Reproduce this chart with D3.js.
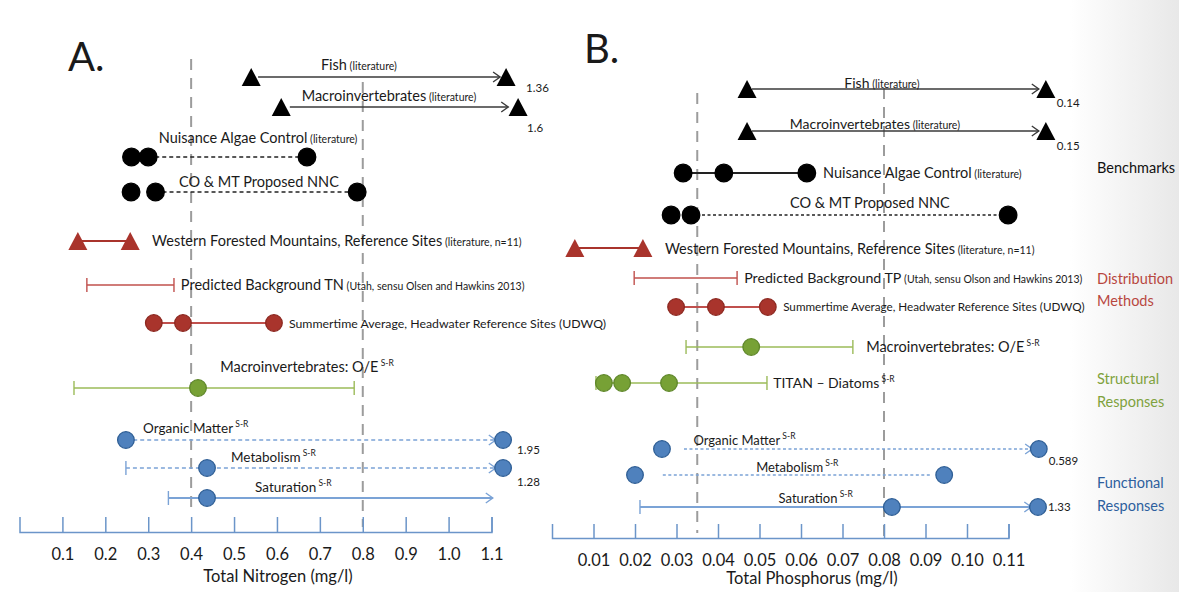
<!DOCTYPE html>
<html lang="en">
<head>
<meta charset="utf-8">
<title>Nitrogen and phosphorus benchmarks</title>
<script src="https://cdn.jsdelivr.net/npm/d3@7"></script>
<style>
	body { margin: 0; background: #fff; font-family: Lato, "Open Sans", sans-serif; }
	svg text { fill: #1a1a1a; }
</style>
</head>
<body>
<svg id="chart" width="1179" height="592"></svg>
<script>

// ---- panel A : total nitrogen (mg/l) ----
var tnTicks = [0.1, 0.2, 0.3, 0.4, 0.5, 0.6, 0.7, 0.8, 0.9, 1.0, 1.1]
var tnCriteria = [0.4, 0.8]
var tnRows = ["Fish", "Macroinvertebrates", "Nuisance Algae Control", "CO & MT Proposed NNC",
	"Western Forested Mountains, Reference Sites", "Predicted Background TN",
	"Summertime Average, Headwater Reference Sites (UDWQ)", "Macroinvertebrates: O/E",
	"Organic Matter", "Metabolism", "Saturation"]
var tnNotes = ["(literature)", "(literature)", "(literature)", "", "(literature, n=11)",
	"(Utah, sensu Olsen and Hawkins 2013)", "", "", "", "", ""]
var tnSup = ["", "", "", "", "", "", "", "S-R", "S-R", "S-R", "S-R"]
var tnGroup = ["bench", "bench", "bench", "bench", "dist", "dist", "dist", "struct", "func", "func", "func"]
var tnMarker = ["tri", "tri", "dot", "dot", "tri", "", "dot", "dot", "dot", "dot", "dot"]
var tnPoints = [[0.54], [0.61], [0.261, 0.30, 0.67], [0.26, 0.317, 0.787], [0.136, 0.258], [],
	[0.313, 0.381, 0.593], [0.416], [0.248], [0.437], [0.437]]
var tnSpans = [[0.556, 1.12], [0.63, 1.139], [0.30, 0.67], [0.317, 0.787], [0.136, 0.258], [0.157, 0.36],
	[0.313, 0.593], [0.127, 0.78], [0.265, 1.11], [0.248, 1.11], [0.347, 1.103]]
var tnBeyond = ["1.36", "1.6", "", "", "", "", "", "", "1.95", "1.28", ""]   // values past the axis end

// ---- panel B : total phosphorus (mg/l) ----
var tpTicks = [0.01, 0.02, 0.03, 0.04, 0.05, 0.06, 0.07, 0.08, 0.09, 0.10, 0.11]
var tpCriteria = [0.035, 0.08]
var tpRows = ["Fish", "Macroinvertebrates", "Nuisance Algae Control", "CO & MT Proposed NNC",
	"Western Forested Mountains, Reference Sites", "Predicted Background TP",
	"Summertime Average, Headwater Reference Sites (UDWQ)", "Macroinvertebrates: O/E",
	"TITAN \u2013 Diatoms", "Organic Matter", "Metabolism", "Saturation"]
var tpNotes = ["(literature)", "(literature)", "(literature)", "", "(literature, n=11)",
	"(Utah, sensu Olson and Hawkins 2013)", "", "", "", "", "", ""]
var tpSup = ["", "", "", "", "", "", "", "S-R", "S-R", "S-R", "S-R", "S-R"]
var tpGroup = ["bench", "bench", "bench", "bench", "dist", "dist", "dist", "struct", "struct", "func", "func", "func"]
var tpMarker = ["tri", "tri", "dot", "dot", "tri", "", "dot", "dot", "dot", "dot", "dot", "dot"]
var tpPoints = [[0.047], [0.047], [0.0316, 0.0414, 0.0614], [0.0287, 0.0335, 0.1099], [0.0055, 0.0219], [],
	[0.0299, 0.0395, 0.052], [0.048], [0.0125, 0.0169, 0.0282], [0.0265], [0.02, 0.0945], [0.0819]]
var tpSpans = [[0.0482, 0.1173], [0.0482, 0.1173], [0.0316, 0.0614], [0.0335, 0.1099], [0.0055, 0.0219],
	[0.0198, 0.0446], [0.0299, 0.052], [0.0323, 0.0725], [0.0106, 0.0518], [0.0318, 0.1157],
	[0.0267, 0.0911], [0.0212, 0.1155]]
var tpBeyond = ["0.14", "0.15", "", "", "", "", "", "", "", "0.589", "", "1.33"]

var groupTitles = [["Benchmarks"], ["Distribution", "Methods"], ["Structural", "Responses"], ["Functional", "Responses"]]
var groupKeys = ["bench", "dist", "struct", "func"]

// ---- looks ----
var groupStyle = {
	bench: {fill: "#000", stroke: "#000", line: "#222", title: "#111"},
	dist: {fill: "#a9342c", stroke: "#8c2820", line: "#c0504d", title: "#b8473f"},
	struct: {fill: "#77a135", stroke: "#5f872a", line: "#9bbb59", title: "#7fa23d"},
	func: {fill: "#4f81bd", stroke: "#2e5e95", line: "#7ba3d6", title: "#2d5f9e"}
}

// layout (pixels and label anchors), kept apart from the data
var tnLayout = {
	max: 1.1, x0: 19.5, x1: 491.5, axisY: 532, tickLen: 15, fmt: ".1f",
	critTop: [59, 82], critBottom: [515, 527],
	rowY: [77, 107, 157, 192, 241, 285, 323, 388, 440, 468, 498],
	kind: ["s>", "s>", "d", "d", "s", "[s]", "s", "[s]", "d>", "[d>", "[s>"],
	labelAt: [0.791, 0.861, 0.556, 0.558, 0.309, 0.376, 0.628, 0.67, 0.288, 0.493, 0.549],
	labelDy: [-7, -6, -14, -5, 5, 5, 5, -16, -7, -6, -6],
	anchor: ["middle", "middle", "middle", "middle", "start", "start", "start", "middle", "start", "start", "start"],
	labelSize: [14.5, 14.5, 14.5, 14.5, 14.5, 14.5, 12.3, 14.5, 13.5, 13.5, 13.5],
	beyondAt: [1.134, 1.162, 0, 0, 0, 0, 0, 0, 1.127, 1.127, 0],
	beyondDx: [20, 9, 0, 0, 0, 0, 0, 0, 14, 14, 0],
	beyondDy: [15, 25, 0, 0, 0, 0, 0, 0, 14, 18, 0],
	title: "Total Nitrogen (mg/l)", titleX: 278, titleY: 582,
	letter: "A.", letterX: 68, letterY: 71
}
var tpLayout = {
	max: 0.11, x0: 552, x1: 1008.5, axisY: 538, tickLen: 14, fmt: ".2f",
	critTop: [93, 88], critBottom: [533, 537],
	rowY: [89, 131, 173, 215, 248, 278, 307, 347, 383, 449, 475, 507],
	kind: ["s>", "s>", "s", "o", "s", "[s]", "s", "[s]", "[s]", "o>", "o", "[s>"],
	labelAt: [0.0795, 0.0778, 0.0653, 0.0766, 0.0272, 0.0463, 0.0557, 0.0757, 0.0533, 0.0341, 0.0492, 0.0546],
	labelDy: [-1, -2, 5, -7, 6, 5, 4, 5, 5, -4, -3, -4],
	anchor: ["middle", "middle", "start", "middle", "start", "start", "start", "start", "start", "start", "start", "start"],
	labelSize: [14, 14, 14.5, 14.5, 14.5, 14.2, 11.7, 14.5, 14, 13, 13, 13],
	beyondAt: [0.119, 0.119, 0, 0, 0, 0, 0, 0, 0, 0.1173, 0, 0.1171],
	beyondDx: [11, 11, 0, 0, 0, 0, 0, 0, 0, 10, 0, 10],
	beyondDy: [18, 19, 0, 0, 0, 0, 0, 0, 0, 16, 4, 4],
	title: "Total Phosphorus (mg/l)", titleX: 812, titleY: 584,
	letter: "B.", letterX: 584, letterY: 63,
	groupX: 1097, groupY: [[173], [284, 306], [384, 407], [488, 511]]
}

var svg = d3.select("#chart")

// faint slide shading on the right edge
var defs = svg.append("defs")
var grad = defs.append("linearGradient").attr("id", "edge").attr("x1", 0).attr("x2", 1).attr("y1", 0).attr("y2", 0)
grad.append("stop").attr("offset", 0).attr("stop-color", "#fff")
grad.append("stop").attr("offset", 1).attr("stop-color", "#e8e8e8")
svg.append("rect").attr("width", 1179).attr("height", 592).attr("fill", "#fff")
svg.append("rect").attr("x", 1070).attr("width", 109).attr("height", 592).attr("fill", "url(#edge)")

function triPath(w, h) {
	return "M0," + (-h / 2) + "L" + (w / 2) + "," + (h / 2) + "L" + (-w / 2) + "," + (h / 2) + "Z"
}

function drawPanel(d, L) {
	var x = d3.scaleLinear().domain([0, L.max]).range([L.x0, L.x1])
	var y = d3.scaleOrdinal().domain(d.rows).range(L.rowY)
	var g = svg.append("g")

	// dashed criteria lines
	g.selectAll(".crit").data(d.criteria).enter().append("line")
		.attr("x1", function(v) { return x(v) }).attr("x2", function(v) { return x(v) })
		.attr("y1", function(v, i) { return L.critTop[i] }).attr("y2", function(v, i) { return L.critBottom[i] })
		.attr("stroke", "#9c9c9c").attr("stroke-width", 2).attr("stroke-dasharray", "11,8")

	// axis, ticks pointing up
	var axis = d3.axisBottom(x).tickValues(d.ticks).tickFormat(d3.format(L.fmt))
		.tickSizeInner(-L.tickLen).tickSizeOuter(-L.tickLen).tickPadding(16)
	var ag = g.append("g").attr("transform", "translate(0," + L.axisY + ")").call(axis)
	ag.selectAll("path, line").attr("stroke", "#6b95c9").attr("stroke-width", 1.5)
	ag.selectAll("text").attr("font-family", "Lato").attr("font-size", 16.5).style("fill", "#1a1a1a")
	g.append("text").attr("x", L.titleX).attr("y", L.titleY).attr("text-anchor", "middle")
		.attr("font-size", 16.5).text(L.title)
	g.append("text").attr("x", L.letterX).attr("y", L.letterY).attr("font-size", 40).text(L.letter)

	d.rows.forEach(function(name, i) {
		var st = groupStyle[d.group[i]]
		var k = L.kind[i]
		var yy = y(name)
		var span = d.spans[i]
		var x1 = x(span[0]), x2 = x(span[1])
		var isBar = k.indexOf("[") >= 0 && k.indexOf("]") >= 0
		var lineCol = st.line
		var lw = isBar ? 1.4 : (k.indexOf("d") >= 0 || k.indexOf("o") >= 0 ? 1.6 : 2)
		if (d.group[i] == "bench" && k.indexOf(">") >= 0) { lineCol = "#3a3a3a"; lw = 1.6 }
		if (d.group[i] == "dist" && d.marker[i] == "tri") { lineCol = st.fill; lw = 2.2 }
		var dash = null
		if (k.indexOf("d") >= 0) dash = "4,3"
		if (k.indexOf("o") >= 0) dash = "3,2.5"
		g.append("line").attr("x1", x1).attr("x2", x2).attr("y1", yy).attr("y2", yy)
			.attr("stroke", lineCol).attr("stroke-width", lw).attr("stroke-dasharray", dash)
		if (k.indexOf("[") >= 0)
			g.append("line").attr("x1", x1).attr("x2", x1).attr("y1", yy - 7).attr("y2", yy + 7)
				.attr("stroke", lineCol).attr("stroke-width", 1.4)
		if (k.indexOf("]") >= 0)
			g.append("line").attr("x1", x2).attr("x2", x2).attr("y1", yy - 7).attr("y2", yy + 7)
				.attr("stroke", lineCol).attr("stroke-width", 1.4)
		if (k.indexOf(">") >= 0)
			g.append("path").attr("d", "M" + (x2 - 7) + "," + (yy - 5) + "L" + x2 + "," + yy + "L" + (x2 - 7) + "," + (yy + 5))
				.attr("fill", "none").attr("stroke", lineCol).attr("stroke-width", 1.4)

		// markers on the scale, plus the one standing for a value past the axis
		var pts = d.points[i].slice()
		if (d.beyond[i]) pts.push(L.beyondAt[i])
		pts.forEach(function(v) {
			if (d.marker[i] == "tri") {
				g.append("path").attr("d", triPath(19, 18))
					.attr("transform", "translate(" + x(v) + "," + yy + ")")
					.attr("fill", st.fill)
			} else {
				g.append("circle").attr("cx", x(v)).attr("cy", yy).attr("r", d.group[i] == "bench" ? 8.8 : 8.3)
					.attr("fill", st.fill).attr("stroke", st.stroke).attr("stroke-width", 1.3)
			}
		})
		if (d.beyond[i])
			g.append("text").attr("x", x(L.beyondAt[i]) + L.beyondDx[i]).attr("y", yy + L.beyondDy[i])
				.attr("font-size", 11.5).text(d.beyond[i])

		// row label
		var t = g.append("text").attr("x", x(L.labelAt[i])).attr("y", yy + L.labelDy[i])
			.attr("text-anchor", L.anchor[i]).attr("font-size", L.labelSize[i])
		t.append("tspan").text(name)
		if (d.notes[i]) t.append("tspan").attr("font-size", 10.5).text(" " + d.notes[i])
		if (d.sup[i]) t.append("tspan").attr("font-size", 8.5).attr("dy", -6).text(" " + d.sup[i])
	})
	return x
}

drawPanel({rows: tnRows, notes: tnNotes, sup: tnSup, group: tnGroup, marker: tnMarker,
	points: tnPoints, spans: tnSpans, beyond: tnBeyond, ticks: tnTicks, criteria: tnCriteria}, tnLayout)
drawPanel({rows: tpRows, notes: tpNotes, sup: tpSup, group: tpGroup, marker: tpMarker,
	points: tpPoints, spans: tpSpans, beyond: tpBeyond, ticks: tpTicks, criteria: tpCriteria}, tpLayout)

// group titles at the right
groupTitles.forEach(function(lines, i) {
	lines.forEach(function(s, j) {
		svg.append("text").attr("x", tpLayout.groupX).attr("y", tpLayout.groupY[i][j])
			.attr("font-size", 14.5).style("fill", groupStyle[groupKeys[i]].title).text(s)
	})
})

</script>
</body>
</html>
